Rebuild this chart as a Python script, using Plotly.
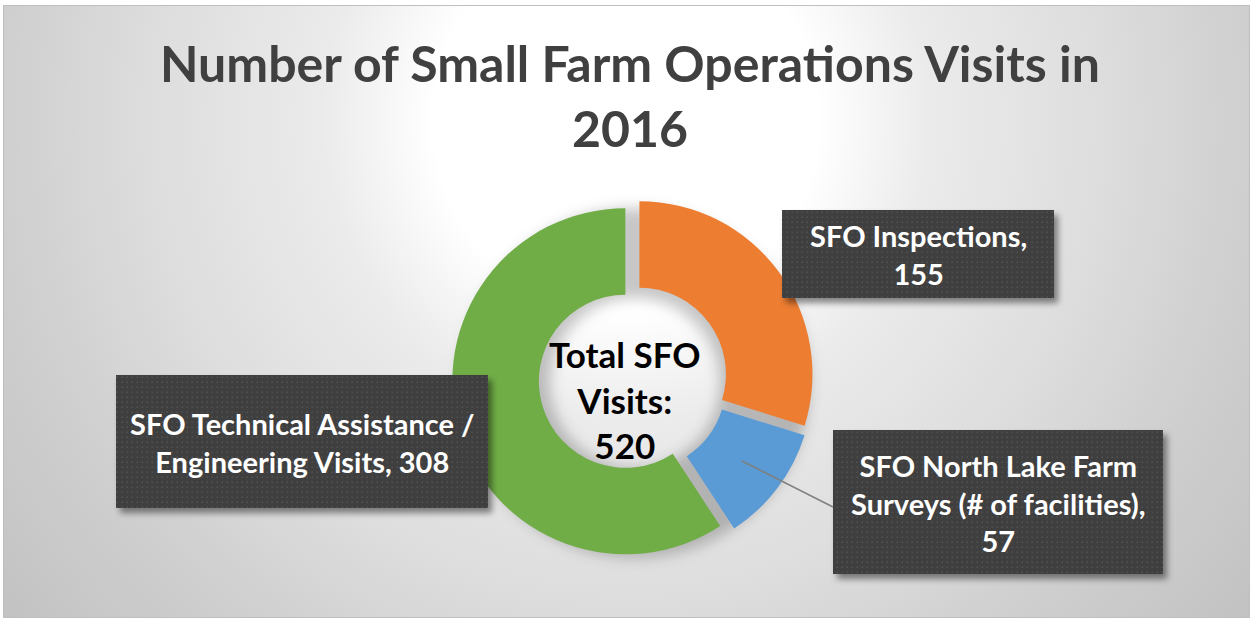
import base64
import plotly.graph_objects as go

# ---------------- data ----------------
categories = [
    "SFO Inspections",
    "SFO North Lake Farm Surveys (# of facilities)",
    "SFO Technical Assistance / Engineering Visits",
]
values = [155, 57, 308]
colors = ["#ED7D31", "#5B9BD5", "#70AD47"]
# how each category name is wrapped in its label box
wrapped_names = [
    "SFO Inspections",
    "SFO North Lake Farm<br>Surveys (# of facilities)",
    "SFO Technical Assistance /<br>Engineering Visits",
]
value_separators = [",<br>", ",<br>", ", "]
title_text = "Number of Small Farm Operations Visits in<br>2016"
center_label = "Total SFO<br>Visits:"

W, H = 1253, 622
FONT = "Lato"


def px(x):
    return x / W


def py(y):
    return 1 - y / H


def svg_uri(s):
    return "data:image/svg+xml;base64," + base64.b64encode(s.encode()).decode()


# ---------------- background (gradient, border, donut shadow) ----------------
bg_svg = f"""<svg xmlns="http://www.w3.org/2000/svg" width="{W}" height="{H}" viewBox="0 0 {W} {H}">
<defs>
<radialGradient id="g" gradientUnits="userSpaceOnUse" cx="626" cy="120" r="800">
<stop offset="0" stop-color="#ffffff"/>
<stop offset="0.24" stop-color="#ffffff"/>
<stop offset="0.38" stop-color="#ebebeb"/>
<stop offset="0.6" stop-color="#dddddd"/>
<stop offset="0.78" stop-color="#cfcfcf"/>
<stop offset="1" stop-color="#c2c2c2"/>
</radialGradient>
<filter id="b" x="-30%" y="-30%" width="160%" height="160%"><feGaussianBlur stdDeviation="7"/></filter>
</defs>
<rect width="{W}" height="{H}" fill="#ffffff"/>
<rect x="3.5" y="5.5" width="1246" height="612" fill="url(#g)" stroke="#bfbfbf" stroke-width="1"/>
<circle cx="635" cy="383" r="130" fill="none" stroke="#000000" stroke-opacity="0.22" stroke-width="90" filter="url(#b)"/>
</svg>"""

# ---------------- label boxes (dark, dotted, with shadow) ----------------
boxes = [(782, 210, 272, 88), (833, 430, 330, 144), (116, 375, 372, 133)]
box_parts = []
for (bx, by, bw, bh) in boxes:
    box_parts.append(
        f'<rect x="{bx+4}" y="{by+5}" width="{bw}" height="{bh}" fill="#000" fill-opacity="0.45" filter="url(#s)"/>'
    )
    box_parts.append(f'<rect x="{bx}" y="{by}" width="{bw}" height="{bh}" fill="url(#p)"/>')
box_svg = f"""<svg xmlns="http://www.w3.org/2000/svg" width="{W}" height="{H}" viewBox="0 0 {W} {H}">
<defs>
<pattern id="p" width="5" height="5" patternUnits="userSpaceOnUse">
<rect width="5" height="5" fill="#3f3f3f"/><rect x="1.5" y="1.5" width="1.5" height="1.5" fill="#525252"/>
</pattern>
<filter id="s" x="-10%" y="-10%" width="130%" height="140%"><feGaussianBlur stdDeviation="3"/></filter>
</defs>
{''.join(box_parts)}
</svg>"""

# ---------------- donut ----------------
pull = 0.046
cx, cy, half = 633, 379, 181
fig = go.Figure(
    go.Pie(
        labels=categories,
        values=values,
        marker=dict(colors=colors, line=dict(width=0)),
        hole=0.5,
        sort=False,
        direction="clockwise",
        rotation=0,
        pull=[pull] * len(values),
        textinfo="none",
        hoverinfo="label+value",
        domain=dict(x=[px(cx - half), px(cx + half)], y=[py(cy + half), py(cy - half)]),
        showlegend=False,
    )
)

annotations = [
    dict(
        text=title_text, x=px(630), y=py(95), xref="paper", yref="paper",
        xanchor="center", yanchor="middle", showarrow=False,
        font=dict(family=FONT, size=50, color="#404040", weight="bold"),
    ),
    dict(
        text=f"{center_label}<br>{sum(values)}", x=px(625), y=py(399), xref="paper", yref="paper",
        xanchor="center", yanchor="middle", showarrow=False,
        font=dict(family=FONT, size=35, color="#000000", weight="bold"),
    ),
]
label_centers = [(918, 254), (998, 503), (302, 442)]
for name, sep, v, (lx, ly) in zip(wrapped_names, value_separators, values, label_centers):
    annotations.append(
        dict(
            text=f"{name}{sep}{v}", x=px(lx), y=py(ly), xref="paper", yref="paper",
            xanchor="center", yanchor="middle", showarrow=False, align="center",
            font=dict(family=FONT, size=29, color="#ffffff", weight="bold"),
        )
    )

fig.update_layout(
    width=W,
    height=H,
    margin=dict(l=0, r=0, t=0, b=0),
    paper_bgcolor="#ffffff",
    plot_bgcolor="rgba(0,0,0,0)",
    showlegend=False,
    images=[
        dict(source=svg_uri(bg_svg), xref="paper", yref="paper", x=0, y=1, sizex=1, sizey=1,
             xanchor="left", yanchor="top", sizing="stretch", layer="below"),
        dict(source=svg_uri(box_svg), xref="paper", yref="paper", x=0, y=1, sizex=1, sizey=1,
             xanchor="left", yanchor="top", sizing="stretch", layer="above"),
    ],
    shapes=[
        dict(type="line", xref="paper", yref="paper", x0=px(742), y0=py(461), x1=px(833), y1=py(507),
             line=dict(color="#7f7f7f", width=1.5), layer="above"),
    ],
    annotations=annotations,
)

fig.write_html(
    "out.html",
    config={"displayModeBar": False},
    post_script="document.body.style.margin='0';",
)
